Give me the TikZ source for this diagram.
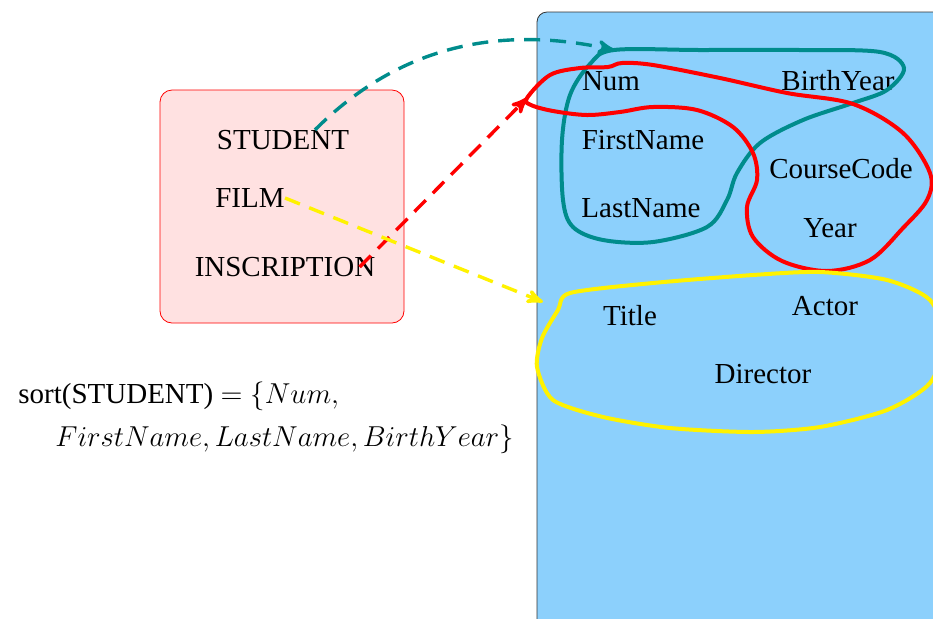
\documentclass[tikz,border=0pt]{standalone}
\usepackage{amsmath}
\usepackage{fontspec}
\setmainfont{Liberation Serif}
\usetikzlibrary{arrows}
\usetikzlibrary{positioning}
\definecolor{setblue}{RGB}{140,208,252}
\definecolor{setpink}{RGB}{255,225,225}
\definecolor{setteal}{RGB}{0,140,140}
\tikzset{attr/.style = {inner sep=0pt, font=\fontsize{14.5}{17}\selectfont},
         link/.style = {dash pattern=on 8pt off 5pt, line width=1.7pt, -{stealth'[scale=1.6]}},
         hyper/.style = {line width=2pt}}

\begin{document}
\begin{tikzpicture}[x=0.5pt, y=-0.5pt]
    \path [use as bounding box] (0, 0) rectangle (933, 618);
    \clip (0, 0) rectangle (933, 618);

    % the universe of attributes
    \draw [fill=setblue, draw=black!80, rounded corners=5pt] (537, 12) rectangle (980, 660);
    % the relation names
    \draw [fill=setpink, draw=red, rounded corners=6pt] (160, 90) rectangle (404, 323);

    \node [attr] (student) at (283, 140) {STUDENT};
    \node [attr] (film) at (250, 198) {FILM};
    \node [attr] (inscription) at (285, 267) {INSCRIPTION};

    \node [attr] (num) at (611, 81) {Num};
    \node [attr] (birthyear) at (838, 81) {BirthYear};
    \node [attr] (firstname) at (643, 140) {FirstName};
    \node [attr] (lastname) at (641, 208) {LastName};
    \node [attr] (coursecode) at (841, 169) {CourseCode};
    \node [attr] (year) at (830, 228) {Year};
    \node [attr] (title) at (630, 316) {Title};
    \node [attr] (actor) at (825, 306) {Actor};
    \node [attr] (director) at (763, 374) {Director};

    \node [attr, anchor=north west, align=left, font=\fontsize{14.5}{21.5}\selectfont] (sortdef) at (18, 381)
      {sort(STUDENT) $=\{Num,$\\\hspace{18.5pt}$FirstName, LastName, BirthYear\}$};

    % the hyperedges
    \coordinate (stutip) at (614, 50);
    \coordinate (insctip) at (527, 98);
    \coordinate (filmtip) at (543, 302);

    \draw [hyper, setteal] plot [smooth cycle, tension=0.55] coordinates {
      (stutip) (700, 50) (800, 50) (880, 52) (904, 68) (887, 90) (853, 103) (803, 120)
      (760, 143) (737, 173) (727, 200) (707, 227) (653, 242) (603, 240) (573, 227)
      (563, 200) (562, 140) (570, 95) (590, 64)};
    \draw [hyper, red] plot [smooth cycle, tension=0.55] coordinates {
      (insctip) (550, 75) (580, 68) (608, 67) (622, 63) (653, 65) (720, 78) (787, 93)
      (853, 104) (903, 133) (930, 173) (927, 200) (903, 228) (870, 260) (827, 271)
      (782, 261) (753, 237) (747, 207) (757, 180) (753, 153) (733, 127) (697, 110)
      (653, 107) (620, 112) (587, 115) (553, 111) (531, 105)};
    \draw [hyper, yellow] plot [smooth cycle, tension=0.45] coordinates {
      (570, 293) (653, 283) (753, 275) (820, 272) (887, 280) (930, 300) (945, 340)
      (930, 383) (887, 410) (820, 427) (753, 432) (670, 428) (603, 417) (553, 400)
      (537, 367) (542, 338) (558, 310)};

    % the sorts
    \draw [link, setteal] ([xshift=16pt]student.north) .. controls (400, 45) and (500, 25) .. (stutip);
    \draw [link, red] ([xshift=-8pt]inscription.east) -- (insctip);
    \draw [link, yellow] (film.east) -- (filmtip);
\end{tikzpicture}
\end{document}
